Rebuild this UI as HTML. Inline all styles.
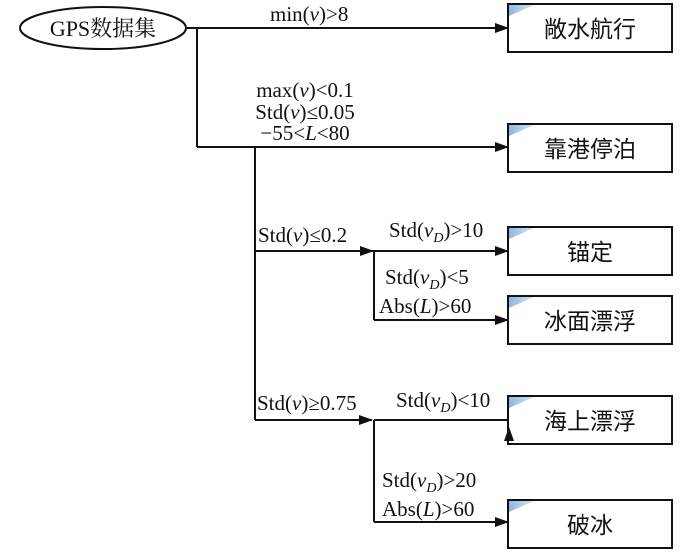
<!DOCTYPE html>
<html><head><meta charset="utf-8"><style>
html,body{margin:0;padding:0;background:#fff;}
svg text{font-family:"Liberation Serif","Noto Serif CJK SC",serif;font-size:21px;fill:#111;}
.cn{font-family:"Liberation Sans","Noto Sans CJK SC",sans-serif;font-size:23px;}
</style></head><body>
<svg width="700" height="553" viewBox="0 0 700 553" xmlns="http://www.w3.org/2000/svg">
<defs>
<marker id="a" markerWidth="14" markerHeight="10" refX="13" refY="5" orient="auto" markerUnits="userSpaceOnUse"><path d="M0,0 L14,5 L0,10 Z" fill="#111"/></marker>
<linearGradient id="g" x1="0" y1="0" x2="1" y2="0"><stop offset="0" stop-color="#8fb8e0"/><stop offset="1" stop-color="#d6e6f5"/></linearGradient>
</defs>
<g stroke="#111" stroke-width="2" fill="none">
<ellipse cx="103" cy="28" rx="83" ry="21"/>
<line x1="186" y1="28" x2="508" y2="28" marker-end="url(#a)"/>
<line x1="197" y1="28" x2="197" y2="147"/>
<line x1="197" y1="147" x2="508" y2="147" marker-end="url(#a)"/>
<line x1="255" y1="147" x2="255" y2="420"/>
<line x1="255" y1="251" x2="373" y2="251" marker-end="url(#a)"/>
<line x1="373" y1="251" x2="508" y2="251" marker-end="url(#a)"/>
<line x1="374" y1="251" x2="374" y2="320"/>
<line x1="374" y1="320" x2="508" y2="320" marker-end="url(#a)"/>
<line x1="255" y1="420" x2="372" y2="420" marker-end="url(#a)"/>
<line x1="374" y1="420" x2="374" y2="522"/>
<line x1="374" y1="420" x2="509" y2="420"/>
<line x1="374" y1="522" x2="508" y2="522" marker-end="url(#a)"/>
</g>
<g fill="#fff" stroke="#111" stroke-width="2">
<rect x="508" y="4" width="164" height="48"/>
<rect x="508" y="124" width="164" height="48"/>
<rect x="508" y="227" width="164" height="48"/>
<rect x="508" y="296" width="164" height="48"/>
<rect x="508" y="396" width="164" height="48"/>
<rect x="508" y="500" width="164" height="48"/>
</g>
<path d="M504,441 L509,427 L514,441 Z" fill="#111"/>
<g fill="url(#g)">
<path d="M509,5 L534,5 L509,16 Z"/>
<path d="M509,125 L534,125 L509,136 Z"/>
<path d="M509,228 L534,228 L509,239 Z"/>
<path d="M509,297 L534,297 L509,308 Z"/>
<path d="M509,397 L534,397 L509,408 Z"/>
<path d="M509,501 L534,501 L509,512 Z"/>
</g>
<text x="103" y="36" text-anchor="middle" style="font-size:22px">GPS数据集</text>
<g text-anchor="middle">
<text x="590" y="37" class="cn">敞水航行</text>
<text x="590" y="157" class="cn">靠港停泊</text>
<text x="590" y="260" class="cn">锚定</text>
<text x="590" y="329" class="cn">冰面漂浮</text>
<text x="590" y="429" class="cn">海上漂浮</text>
<text x="590" y="533" class="cn">破冰</text>
</g>
<text x="270" y="21">min(<tspan font-style="italic">v</tspan>)&gt;8</text>
<text x="305" y="97" text-anchor="middle">max(<tspan font-style="italic">v</tspan>)&lt;0.1</text>
<text x="305" y="119" text-anchor="middle">Std(<tspan font-style="italic">v</tspan>)≤0.05</text>
<text x="305" y="140" text-anchor="middle">−55&lt;<tspan font-style="italic">L</tspan>&lt;80</text>
<text x="258" y="242">Std(<tspan font-style="italic">v</tspan>)≤0.2</text>
<text x="389" y="237">Std(<tspan font-style="italic">v</tspan><tspan font-style="italic" font-size="14" dy="5">D</tspan><tspan dy="-5">)&gt;10</tspan></text>
<text x="385" y="284">Std(<tspan font-style="italic">v</tspan><tspan font-style="italic" font-size="14" dy="5">D</tspan><tspan dy="-5">)&lt;5</tspan></text>
<text x="379" y="313">Abs(<tspan font-style="italic">L</tspan>)&gt;60</text>
<text x="257" y="410">Std(<tspan font-style="italic">v</tspan>)≥0.75</text>
<text x="396" y="407">Std(<tspan font-style="italic">v</tspan><tspan font-style="italic" font-size="14" dy="5">D</tspan><tspan dy="-5">)&lt;10</tspan></text>
<text x="382" y="487">Std(<tspan font-style="italic">v</tspan><tspan font-style="italic" font-size="14" dy="5">D</tspan><tspan dy="-5">)&gt;20</tspan></text>
<text x="382" y="516">Abs(<tspan font-style="italic">L</tspan>)&gt;60</text>
</svg>
</body></html>
